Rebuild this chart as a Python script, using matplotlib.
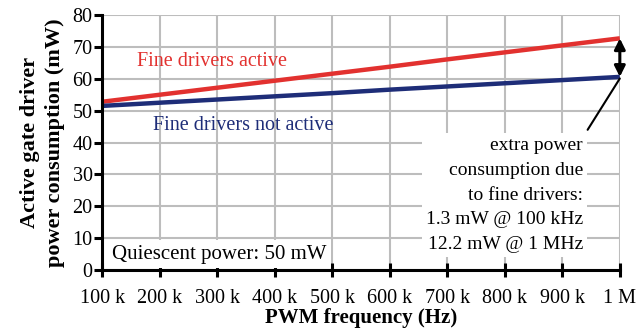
import matplotlib.pyplot as plt
import numpy as np

plt.rcParams['font.family'] = ['Liberation Serif', 'DejaVu Serif']

freq = [100e3, 200e3, 300e3, 400e3, 500e3, 600e3, 700e3, 800e3, 900e3, 1e6]
p_active = [52.8, 55.0, 57.2, 59.4, 61.6, 63.8, 66.1, 68.3, 70.5, 72.7]
p_inactive = [51.5, 52.5, 53.5, 54.5, 55.5, 56.6, 57.6, 58.6, 59.6, 60.6]
xtick_labels = ['100 k', '200 k', '300 k', '400 k', '500 k', '600 k', '700 k', '800 k', '900 k', '1 M']

red = '#e2312f'
blue = '#1e2d78'

fig = plt.figure(figsize=(6.39, 3.35), dpi=100)
ax = fig.add_axes([0.16, 0.194, 0.81, 0.761])

ax.plot(freq, p_active, color=red, lw=3.2, solid_capstyle='butt', zorder=3)
ax.plot(freq, p_inactive, color=blue, lw=3.2, solid_capstyle='butt', zorder=3)

ax.set_xlim(100e3, 1e6)
ax.set_ylim(0, 80)
ax.set_xticks(freq)
ax.set_xticklabels(xtick_labels)
ax.set_yticks(np.arange(0, 81, 10))
ax.grid(True, color='#bdbdbd', lw=1.5)
ax.set_axisbelow(True)

for s in ['top', 'right']:
    ax.spines[s].set_visible(False)
for s in ['left', 'bottom']:
    ax.spines[s].set_linewidth(2.2)
    ax.spines[s].set_zorder(5)
ax.tick_params(axis='y', direction='out', length=6, width=2.2, labelsize=14.5, pad=1)
ax.tick_params(axis='x', direction='inout', length=10, width=2.2, labelsize=14.5, pad=9)

ax.set_xlabel('PWM frequency (Hz)', fontsize=15, fontweight='bold', labelpad=0)
ax.set_ylabel('Active gate driver\npower consumption (mW)', fontsize=16,
              fontweight='bold', labelpad=5, linespacing=1.35)

ax.text(161e3, 65.3, 'Fine drivers active', color=red, fontsize=14.5, va='center')
ax.text(188e3, 45.3, 'Fine drivers not active', color=blue, fontsize=14.5, va='center')

ax.text(117e3, 5, 'Quiescent power: 50 mW', fontsize=15, va='center',
        bbox=dict(facecolor='white', edgecolor='none', pad=3), zorder=4)

ax.text(936e3, 23.5,
        'extra power\nconsumption due\nto fine drivers:\n1.3 mW @ 100 kHz\n12.2 mW @ 1 MHz',
        fontsize=14, ha='right', va='center', multialignment='right', linespacing=1.6,
        bbox=dict(facecolor='white', edgecolor='none', pad=3), zorder=4)

ax.annotate('', xy=(1e6, p_active[-1]), xytext=(1e6, p_inactive[-1]),
            arrowprops=dict(arrowstyle='<|-|>', color='black', lw=2.2,
                            mutation_scale=16, shrinkA=0, shrinkB=0), zorder=6)
ax.annotate('', xy=(1e6, p_inactive[-1] - 0.5), xytext=(944e3, 44),
            arrowprops=dict(arrowstyle='-', color='black', lw=1.5,
                            shrinkA=0, shrinkB=0), zorder=6)

fig.savefig('out.png', dpi=100)
